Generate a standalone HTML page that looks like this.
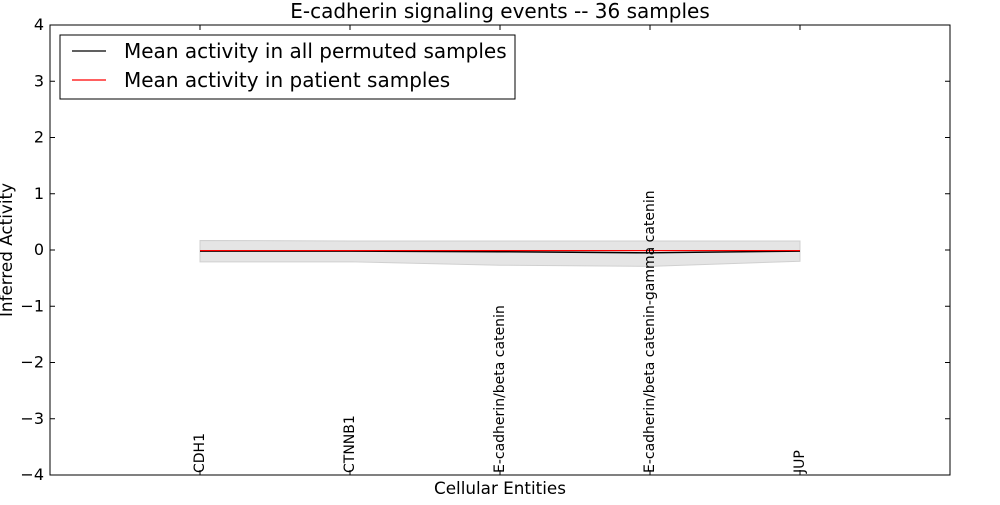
<!DOCTYPE html>
<html><head><meta charset="utf-8"><style>
body{margin:0;background:#fff;}
svg text{font-family:"DejaVu Sans","Liberation Sans",sans-serif;}
</style></head><body>
<svg id="chart" width="1000" height="500" xmlns="http://www.w3.org/2000/svg">
<rect width="1000" height="500" fill="#fff"/>
<text x="500" y="18" text-anchor="middle" font-size="20">E-cadherin signaling events -- 36 samples</text>
<g id="plot"></g>
<text x="500" y="494" text-anchor="middle" font-size="16.8">Cellular Entities</text>
<text transform="translate(12,250) rotate(-90)" text-anchor="middle" font-size="16.8">Inferred Activity</text>
<g>
<rect x="60" y="35" width="455" height="64" fill="#fff" stroke="#000" stroke-width="1"/>
<line x1="72" y1="51" x2="106" y2="51" stroke="#000" stroke-width="1.2"/>
<text x="124" y="58" font-size="20">Mean activity in all permuted samples</text>
<line x1="72" y1="80" x2="106" y2="80" stroke="#f00" stroke-width="1.2"/>
<text x="124" y="87" font-size="20">Mean activity in patient samples</text>
</g>
</svg>
<script>
const categories=["CDH1","CTNNB1","E-cadherin/beta catenin","E-cadherin/beta catenin-gamma catenin","JUP"];
const bandUpper=[0.17,0.16,0.16,0.16,0.16];
const bandLower=[-0.21,-0.21,-0.27,-0.29,-0.2];
const permutedMean=[-0.02,-0.02,-0.03,-0.05,-0.02];
const patientMean=[-0.01,-0.01,-0.01,-0.01,-0.01];
const yTicks=[4,3,2,1,0,-1,-2,-3,-4];
const X0=50,X1=950,Y0=25,Y1=475;
const xs=i=>X0+(i+1)/(categories.length+1)*(X1-X0);
const ys=v=>Y0+(4-v)/8*(Y1-Y0);
const NS="http://www.w3.org/2000/svg";
const g=document.getElementById('plot');
function mk(t,a){const e=document.createElementNS(NS,t);for(const k in a)e.setAttribute(k,a[k]);g.appendChild(e);return e;}
let pts=categories.map((c,i)=>xs(i)+','+ys(bandUpper[i]));
for(let i=categories.length-1;i>=0;i--)pts.push(xs(i)+','+ys(bandLower[i]));
const band=mk('polygon',{points:pts.join(' '),fill:'#e5e5e5',stroke:'#d0d0d0','stroke-width':1});


const l1=mk('polyline',{points:categories.map((c,i)=>xs(i)+','+ys(permutedMean[i])).join(' '),fill:'none',stroke:'#000','stroke-width':1.5});


const l2=mk('polyline',{points:categories.map((c,i)=>xs(i)+','+ys(patientMean[i])).join(' '),fill:'none',stroke:'#f00','stroke-width':1.2});


const fr=mk('rect',{x:X0,y:Y0,width:X1-X0,height:Y1-Y0,fill:'none',stroke:'#000','stroke-width':1});


yTicks.forEach(v=>{
 const y=ys(v);
 mk('line',{x1:X0,y1:y,x2:X0+5,y2:y,stroke:'#000'});
 mk('line',{x1:X1,y1:y,x2:X1-5,y2:y,stroke:'#000'});
 const t=mk('text',{x:X0-6,y:y+5,'text-anchor':'end','font-size':16});
 t.textContent=v<0?'\u2212'+(-v):String(v);
 
 
});
categories.forEach((c,i)=>{
 const x=xs(i);
 mk('line',{x1:x,y1:Y1,x2:x,y2:Y1-5,stroke:'#000'});
 mk('line',{x1:x,y1:Y0,x2:x,y2:Y0+5,stroke:'#000'});
 const t=mk('text',{transform:`translate(${x+4},${Y1-2}) rotate(-90)`,'font-size':14});
 t.textContent=c;
 
 
});
</script>
</body></html>
